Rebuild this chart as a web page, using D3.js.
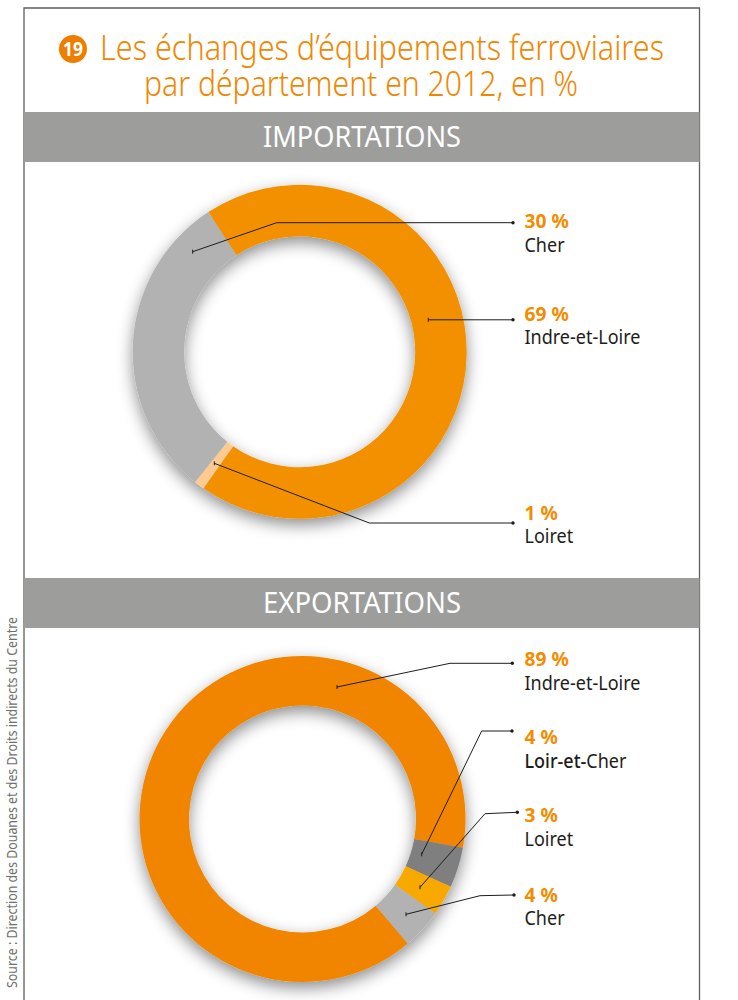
<!DOCTYPE html>
<html lang="fr">
<head>
<meta charset="utf-8">
<script src="https://cdn.jsdelivr.net/npm/d3@7/dist/d3.min.js"></script>
<style>
  html, body { margin: 0; padding: 0; background: #fff; }
  svg { display: block; }
  text { font-family: "Noto Sans", sans-serif; }
</style>
</head>
<body>
<div id="chart"></div>
<script>
// Trade shares by département, 2012 (percent)
const importDepartments = ["Indre-et-Loire", "Loiret", "Cher"];
const importValues = [69, 1, 30];
const importColors = ["#f39000", "#fdcb91", "#b2b2b2"];
const exportDepartments = ["Indre-et-Loire", "Loir-et-Cher", "Loiret", "Cher"];
const exportValues = [89, 4, 3, 4];
const exportColors = ["#f18500", "#7f7f7f", "#f8a900", "#b2b2b2"];

const titleLines = ["Les échanges d’équipements ferroviaires", "par département en 2012, en %"];
const sourceNote = "Source : Direction des Douanes et des Droits indirects du Centre";

// Callout geometry: each leader runs from inside its slice to the text column
const importCallouts = [
  { name: "Cher", path: [[192.7, 251.7], [276.7, 222.7], [513, 222.7]], valueY: 228, nameY: 252 },
  { name: "Indre-et-Loire", path: [[428.3, 319.8], [513, 319.8]], valueY: 321, nameY: 344 },
  { name: "Loiret", path: [[214.3, 463.3], [369.3, 523], [513, 523]], valueY: 520, nameY: 543 }
];
const exportCallouts = [
  { name: "Indre-et-Loire", path: [[337, 687], [450, 663.3], [512.3, 663.3]], valueY: 666, nameY: 690 },
  { name: "Loir-et-Cher", path: [[421.7, 854.3], [481.7, 731], [512, 731]], valueY: 744, nameY: 768, boldPart: "Loir-et-", rest: "Cher" },
  { name: "Loiret", path: [[420, 887.3], [485, 813.7], [517.3, 812.3]], valueY: 822, nameY: 846 },
  { name: "Cher", path: [[406, 914.3], [480, 895.7], [514, 895]], valueY: 902, nameY: 925 }
];

const width = 738, height = 1000;
const frame = { left: 24, right: 699.5, top: 8 };
const orange = "#f18700";

const svg = d3.select("#chart").append("svg")
  .attr("width", width).attr("height", height).attr("viewBox", [0, 0, width, height]);

const shadow = svg.append("defs").append("filter")
  .attr("id", "ring-shadow")
  .attr("x", "-15%").attr("y", "-15%").attr("width", "130%").attr("height", "130%");
shadow.append("feDropShadow")
  .attr("dx", 0).attr("dy", 6).attr("stdDeviation", 8)
  .attr("flood-color", "#000").attr("flood-opacity", 0.45);

// Page frame, open at the bottom
svg.append("path")
  .attr("d", `M${frame.left},${height}V${frame.top}H${frame.right}V${height}`)
  .attr("fill", "none").attr("stroke", "#5f5f5f").attr("stroke-width", 1.3);

// Title with its numbered badge
svg.append("circle").attr("cx", 73).attr("cy", 49).attr("r", 14).attr("fill", "#ee7d00");
svg.append("text").attr("x", 73).attr("y", 56).attr("text-anchor", "middle")
  .attr("fill", "#fff").attr("font-size", 20).attr("font-weight", 700)
  .attr("textLength", 20).attr("lengthAdjust", "spacingAndGlyphs").text("19");

const titleBoxes = [[100, 564, 60], [144, 434, 96]];
svg.selectAll("text.title").data(titleLines).join("text")
  .attr("class", "title")
  .attr("x", (d, i) => titleBoxes[i][0]).attr("y", (d, i) => titleBoxes[i][2])
  .attr("textLength", (d, i) => titleBoxes[i][1]).attr("lengthAdjust", "spacingAndGlyphs")
  .attr("fill", orange).attr("font-size", 34).attr("font-weight", 300)
  .text(d => d);

function banner(label, top, textWidth) {
  svg.append("rect")
    .attr("x", frame.left).attr("y", top).attr("width", frame.right - frame.left).attr("height", 50)
    .attr("fill", "#9d9d9c");
  svg.append("text")
    .attr("x", 362).attr("y", top + 35).attr("text-anchor", "middle")
    .attr("textLength", textWidth).attr("lengthAdjust", "spacingAndGlyphs")
    .attr("fill", "#fff").attr("font-size", 29).attr("font-weight", 400)
    .text(label);
}

function donut({ cx, cy, outer, inner, start, names, values, colors, callouts }) {
  const pie = d3.pie().sort(null)
    .startAngle(start * Math.PI / 180)
    .endAngle((start + 360) * Math.PI / 180);
  const arc = d3.arc().innerRadius(inner).outerRadius(outer);
  const color = d3.scaleOrdinal(names, colors);

  svg.append("g")
    .attr("transform", `translate(${cx},${cy})`)
    .attr("filter", "url(#ring-shadow)")
    .selectAll("path").data(pie(values)).join("path")
    .attr("d", arc)
    .attr("fill", (d, i) => color(names[i]));

  const line = d3.line();
  const notes = svg.append("g");
  callouts.forEach(c => {
    const value = values[names.indexOf(c.name)];
    const [sx, sy] = c.path[0];
    const [ex, ey] = c.path[c.path.length - 1];
    notes.append("path").attr("d", line(c.path))
      .attr("fill", "none").attr("stroke", "#1d1d1b").attr("stroke-width", 1);
    notes.append("path").attr("d", `M${sx},${sy - 2}v4`)
      .attr("stroke", "#1d1d1b").attr("stroke-width", 1);
    notes.append("circle").attr("cx", ex).attr("cy", ey).attr("r", 1.7).attr("fill", "#1d1d1b");
    // Labels use a narrowed setting of the face
    notes.append("text").attr("transform", `translate(524.5,${c.valueY}) scale(0.96,1)`)
      .attr("fill", "#f28c00").attr("font-size", 20).attr("font-weight", 700)
      .text(`${value} %`);
    const nameText = notes.append("text").attr("transform", `translate(524.5,${c.nameY}) scale(0.9,1)`)
      .attr("fill", "#1d1d1b").attr("font-size", 20).attr("font-weight", 400);
    if (c.boldPart) {
      nameText.append("tspan").attr("font-weight", 500).text(c.boldPart);
      nameText.append("tspan").text(c.rest);
    } else {
      nameText.text(c.name);
    }
  });
}

banner("IMPORTATIONS", 112, 198);
banner("EXPORTATIONS", 578, 198);

donut({
  cx: 299.7, cy: 351.8, outer: 167, inner: 115.5, start: -33.2,
  names: importDepartments, values: importValues, colors: importColors, callouts: importCallouts
});
donut({
  cx: 302.5, cy: 819, outer: 163, inner: 113.5, start: 139.8,
  names: exportDepartments, values: exportValues, colors: exportColors, callouts: exportCallouts
});

// Source note set vertically in the left margin
svg.append("text")
  .attr("transform", "translate(17,988) rotate(-90)")
  .attr("textLength", 371).attr("lengthAdjust", "spacingAndGlyphs")
  .attr("fill", "#6f6f6e").attr("font-size", 15)
  .text(sourceNote);
</script>
</body>
</html>
